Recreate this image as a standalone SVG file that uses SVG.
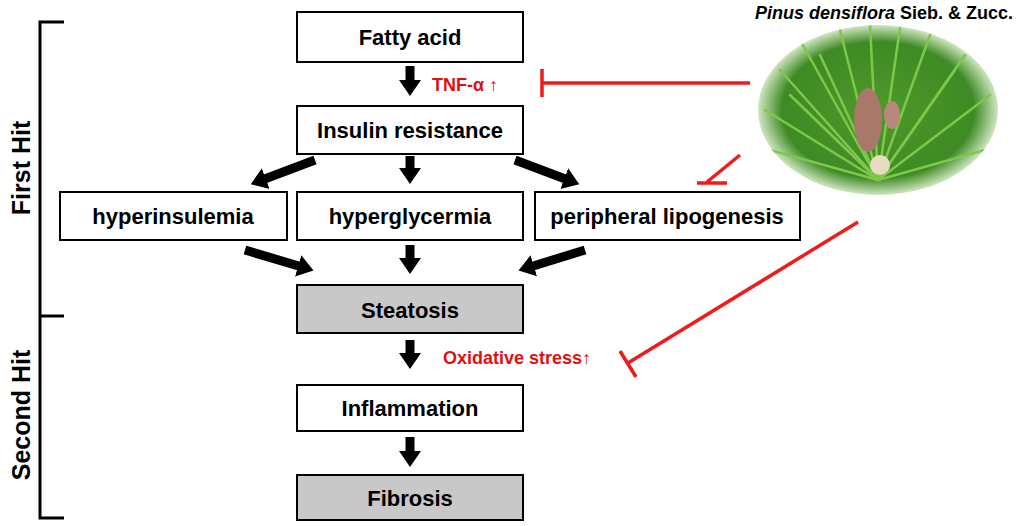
<svg xmlns="http://www.w3.org/2000/svg" width="1024" height="526" viewBox="0 0 1024 526">
<style>
.box{fill:#fff;stroke:#000;stroke-width:2}
.gray{fill:#c8c8c8;stroke:#000;stroke-width:2}
.t{font-family:"Liberation Sans",Arial,sans-serif;font-weight:bold;font-size:22px;text-anchor:middle;fill:#000}
.h{font-family:"Liberation Sans",Arial,sans-serif;font-weight:bold;font-size:25px;text-anchor:middle;fill:#000}
.r{font-family:"Liberation Sans",Arial,sans-serif;font-weight:bold;font-size:18px;fill:#e01010}
.a{stroke:#000;stroke-width:9;fill:none;marker-end:url(#ah)}
.inh{stroke:#ee1c1c;stroke-width:3.5;fill:none}
.needle{stroke:#7dc84a;stroke-width:2.5;stroke-linecap:round}
</style>
<defs>
<marker id="ah" markerUnits="userSpaceOnUse" markerWidth="24" markerHeight="24" viewBox="0 0 24 24" refX="4" refY="12" orient="auto">
<path d="M0,1 L16,12 L0,23 Z" fill="#000"/>
</marker>
<radialGradient id="pg" cx="0.5" cy="0.5" r="0.5">
<stop offset="0" stop-color="#4f9a2a"/>
<stop offset="0.8" stop-color="#3e8a24"/>
<stop offset="1" stop-color="#cfe6c0"/>
</radialGradient>
<clipPath id="ec"><ellipse cx="878" cy="110" rx="120" ry="85"/></clipPath>
</defs>

<g id="bracket" stroke="#000" stroke-width="3" fill="none">
<path d="M64,22 H40 V518 H64 M40,316 H64"/>
</g>
<text class="h" transform="translate(30,168) rotate(-90)">First Hit</text>
<text class="h" transform="translate(30,415) rotate(-90)">Second Hit</text>

<g id="pine">
<ellipse cx="878" cy="110" rx="120" ry="85" fill="url(#pg)"/>
<g clip-path="url(#ec)">
<line class="needle" x1="878" y1="180" x2="780" y2="70"/>
<line class="needle" x1="878" y1="180" x2="800" y2="40"/>
<line class="needle" x1="878" y1="180" x2="840" y2="30"/>
<line class="needle" x1="878" y1="180" x2="870" y2="25"/>
<line class="needle" x1="878" y1="180" x2="900" y2="28"/>
<line class="needle" x1="878" y1="180" x2="930" y2="35"/>
<line class="needle" x1="878" y1="180" x2="965" y2="55"/>
<line class="needle" x1="878" y1="180" x2="990" y2="95"/>
<line class="needle" x1="878" y1="180" x2="765" y2="110"/>
<line class="needle" x1="878" y1="180" x2="770" y2="150"/>
<line class="needle" x1="878" y1="180" x2="985" y2="150"/>
<line class="needle" x1="878" y1="180" x2="820" y2="55"/>
<line class="needle" x1="878" y1="180" x2="955" y2="70"/>
<line class="needle" x1="878" y1="180" x2="790" y2="95"/>
</g>
<ellipse cx="868" cy="120" rx="14" ry="32" fill="#a8786a"/>
<ellipse cx="892" cy="115" rx="8" ry="14" fill="#b8867a"/>
<circle cx="880" cy="165" r="10" fill="#e8dcc0"/>
</g>
<text x="884" y="19" font-family="Liberation Sans,Arial,sans-serif" font-weight="bold" font-size="18" text-anchor="middle"><tspan font-style="italic">Pinus densiflora</tspan> Sieb. &amp; Zucc.</text>

<g id="n1"><rect class="box" x="297" y="12" width="226" height="50"/><text class="t" x="410" y="45">Fatty acid</text></g>
<g id="n2"><rect class="box" x="297" y="106" width="226" height="48"/><text class="t" x="410" y="138">Insulin resistance</text></g>
<g id="n3"><rect class="box" x="60" y="192" width="227" height="48"/><text class="t" x="173" y="224">hyperinsulemia</text></g>
<g id="n4"><rect class="box" x="297" y="192" width="226" height="48"/><text class="t" x="410" y="224">hyperglycermia</text></g>
<g id="n5"><rect class="box" x="535" y="192" width="265" height="48"/><text class="t" x="667" y="224">peripheral lipogenesis</text></g>
<g id="n6"><rect class="gray" x="297" y="285" width="226" height="48"/><text class="t" x="410" y="318">Steatosis</text></g>
<g id="n7"><rect class="box" x="297" y="385" width="226" height="46"/><text class="t" x="410" y="416">Inflammation</text></g>
<g id="n8"><rect class="gray" x="297" y="475" width="226" height="45"/><text class="t" x="410" y="506">Fibrosis</text></g>

<g id="connectors">
<line class="a" x1="410" y1="66" x2="410" y2="84"/>
<line class="a" x1="315" y1="160" x2="262" y2="180"/>
<line class="a" x1="410" y1="156" x2="410" y2="172"/>
<line class="a" x1="515" y1="160" x2="568" y2="180"/>
<line class="a" x1="245" y1="250" x2="302" y2="267"/>
<line class="a" x1="410" y1="245" x2="410" y2="262"/>
<line class="a" x1="585" y1="250" x2="530" y2="267"/>
<line class="a" x1="410" y1="340" x2="410" y2="357"/>
<line class="a" x1="410" y1="437" x2="410" y2="455"/>
<path class="inh" d="M750,83 H542 M542,69 V97"/>
<path class="inh" d="M740,155 L707,182 M697,183 H727"/>
<path class="inh" d="M858,222 L628,363 M620,351 L636,377"/>
</g>
<text class="r" x="432" y="91">TNF-α ↑</text>
<text class="r" x="443" y="364">Oxidative stress↑</text>
</svg>
